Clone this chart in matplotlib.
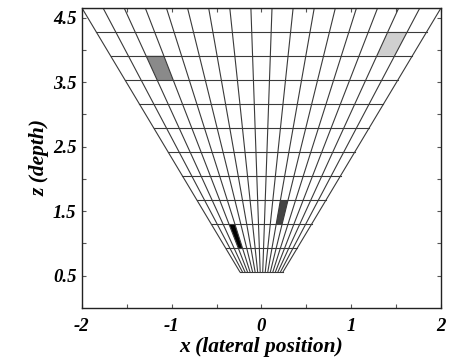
import numpy as np
import matplotlib
matplotlib.use("Agg")
import matplotlib.pyplot as plt
from matplotlib.patches import Polygon

# depth of each horizontal grid line (bottom to top)
depth_edges = [0.56, 0.93, 1.30, 1.67, 2.05, 2.42, 2.79, 3.16, 3.53, 3.91, 4.28, 4.65]
# lateral spread per unit depth of the outermost beams
fan_slope = 0.43
n_beams = 17

# highlighted cells: (row index, beam index, fill colour)
cell_rows = [8, 9, 2, 1]
cell_cols = [2, 15, 11, 3]
cell_colors = ["#8a8a8a", "#cfcfcf", "#444444", "#000000"]

plt.rcParams["font.family"] = ["Liberation Serif", "DejaVu Serif"]

fig = plt.figure(figsize=(4.5, 3.64), dpi=100)
ax = fig.add_axes([0.182, 0.154, 0.798, 0.824])

slopes = np.linspace(-fan_slope, fan_slope, n_beams + 1)
z_lo, z_hi = depth_edges[0], depth_edges[-1]

line_kw = dict(color="#3a3a3a", lw=0.8, zorder=2)

# shaded cells
for r, c, col in zip(cell_rows, cell_cols, cell_colors):
    za, zb = depth_edges[r], depth_edges[r + 1]
    sa, sb = slopes[c], slopes[c + 1]
    quad = [(sa * za, za), (sb * za, za), (sb * zb, zb), (sa * zb, zb)]
    ax.add_patch(Polygon(quad, closed=True, facecolor=col, edgecolor="none", zorder=1))

# radial beam lines
for s in slopes:
    ax.plot([s * z_lo, s * z_hi], [z_lo, z_hi], **line_kw)

# depth lines
for z in depth_edges:
    ax.plot([-fan_slope * z, fan_slope * z], [z, z], **line_kw)

ax.set_xlim(-2, 2)
ax.set_ylim(0, 4.65)

ax.set_xticks(np.arange(-2, 2.01, 0.5))
ax.set_xticklabels(["-2", "", "-1", "", "0", "", "1", "", "2"])
ax.set_yticks(np.arange(0.5, 4.51, 0.5))
ax.set_yticklabels(["0.5", "", "1.5", "", "2.5", "", "3.5", "", "4.5"])

ax.tick_params(direction="in", length=3, width=0.8, top=True, right=True,
               labelsize=13.5, color="#555555")
ax.tick_params(axis="x", pad=7)
ax.tick_params(axis="y", pad=4)
for lab in ax.get_xticklabels() + ax.get_yticklabels():
    lab.set_fontstyle("italic")
    lab.set_fontweight("bold")

for sp in ax.spines.values():
    sp.set_linewidth(1.0)
    sp.set_color("#222222")

ax.set_xlabel("x (lateral position)", fontsize=15.5, fontstyle="italic",
              fontweight="bold", labelpad=2)
ax.set_ylabel("z (depth)", fontsize=15.5, fontstyle="italic",
              fontweight="bold", labelpad=2)

fig.savefig("out.png", dpi=100)
